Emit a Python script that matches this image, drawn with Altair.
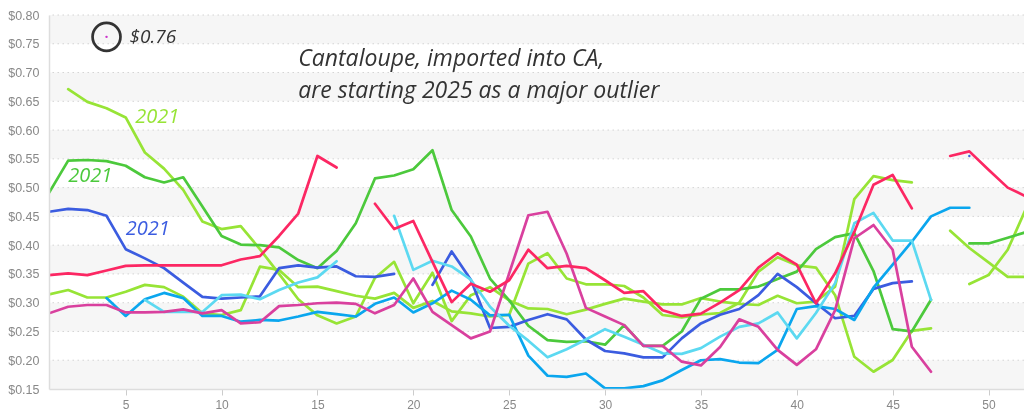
import altair as alt
import pandas as pd

weeks = list(range(1, 53))

red = [0.348, 0.351, 0.348, 0.356, 0.364, 0.365, 0.365, 0.365, 0.365, 0.365,
       0.375, 0.381, 0.416, 0.455, 0.555, 0.535, None, 0.472, 0.428, 0.442,
       0.371, 0.301, 0.333, 0.319, 0.339, 0.392, 0.360, 0.364, 0.360, 0.339,
       0.317, 0.320, 0.287, 0.277, 0.281, 0.300, 0.322, 0.361, 0.386, 0.366,
       0.299, 0.351, 0.423, 0.505, 0.522, 0.464, None, 0.555, 0.563, 0.531,
       0.500, 0.484]

green = [0.491, 0.547, 0.548, 0.546, 0.538, 0.518, 0.509, 0.518, 0.467, 0.416,
         0.401, 0.400, 0.396, 0.374, 0.360, 0.390, 0.438, 0.516, 0.521, 0.532,
         0.565, 0.461, 0.415, 0.342, 0.304, 0.260, 0.235, 0.232, 0.233, 0.227,
         0.261, 0.225, 0.225, 0.250, 0.307, 0.323, 0.323, 0.328, 0.341, 0.354,
         0.393, 0.414, 0.421, 0.355, 0.254, 0.250, 0.305, None, 0.403, 0.403,
         0.413, 0.423]

blue = [0.458, 0.463, 0.461, 0.451, 0.393, 0.377, 0.360, 0.335, 0.310, 0.307,
        0.309, 0.311, 0.360, 0.365, 0.361, 0.363, 0.346, 0.345, 0.350, None,
        0.331, 0.389, 0.340, 0.256, 0.258, 0.270, 0.280, 0.271, 0.236, 0.216,
        0.212, 0.205, 0.205, 0.238, 0.264, 0.279, 0.289, 0.313, 0.350, 0.327,
        0.299, 0.273, 0.277, 0.324, 0.334, 0.337, None, None, 0.555, None,
        None, None]

cyan = [None, None, None, 0.308, 0.277, 0.306, 0.317, 0.308, 0.277, 0.277,
        0.267, 0.270, 0.269, 0.276, 0.284, 0.280, 0.276, 0.298, 0.309, 0.283,
        0.299, 0.321, 0.305, 0.278, 0.279, 0.208, 0.173, 0.171, 0.177, 0.151,
        0.151, 0.155, 0.165, 0.183, 0.200, 0.202, 0.196, 0.195, 0.218, 0.289,
        0.294, 0.289, 0.270, 0.326, 0.366, 0.406, 0.450, 0.465, 0.465, None,
        None, None]

light_cyan = [None, None, None, None, None, 0.305, 0.284, 0.284, 0.284, 0.313,
              0.314, 0.306, 0.322, 0.335, 0.344, 0.372, None, None, 0.451, 0.357,
              0.373, 0.363, 0.340, 0.293, 0.260, 0.234, 0.205, 0.219, 0.236, 0.254,
              0.241, 0.227, 0.212, 0.211, 0.221, 0.241, 0.258, 0.264, 0.283, 0.238,
              0.282, 0.334, 0.438, 0.456, 0.408, 0.408, 0.305, None, None, None,
              None, None]

magenta = [0.2815, 0.293, 0.296, 0.296, 0.283, 0.283, 0.284, 0.2885, 0.2815, 0.287,
           0.264, 0.266, 0.294, 0.296, 0.299, 0.300, 0.298, 0.2815, 0.296, 0.342,
           0.284, 0.261, 0.238, 0.250, 0.351, 0.452, 0.458, 0.385, 0.291, 0.276,
           0.261, 0.225, 0.225, 0.1975, 0.191, 0.223, 0.271, 0.258, 0.218, 0.192,
           0.219, 0.287, 0.412, 0.435, 0.392, 0.2235, 0.180, None, None, None,
           None, None]

lime_a = [None, 0.671, 0.649, 0.638, 0.622, 0.561, 0.533, 0.496, 0.441, 0.428,
          0.433, 0.393, 0.350, 0.306, 0.278, 0.264, 0.276, 0.343, 0.371, 0.299,
          0.352, 0.268, 0.313, 0.327, 0.304, 0.290, 0.289, 0.280, 0.288, 0.298,
          0.307, 0.302, 0.297, 0.297, 0.308, 0.302, 0.298, 0.296, 0.312, 0.299,
          0.302, 0.328, 0.480, 0.520, 0.513, 0.509, None, 0.425, 0.395, 0.370,
          0.345, 0.345]

lime_b = [0.3145, 0.322, 0.309, 0.309, 0.319, 0.331, 0.327, 0.3105, 0.2815, 0.2786,
          0.287, 0.3626, 0.357, 0.327, 0.328, 0.320, 0.312, 0.307, 0.317, 0.291,
          0.303, 0.285, 0.2815, 0.276, 0.2786, 0.368, 0.386, 0.342, 0.332, 0.332,
          0.329, 0.309, 0.2786, 0.2746, 0.2795, 0.282, 0.300, 0.354, 0.379, 0.365,
          0.361, 0.313, 0.206, 0.180, 0.2004, 0.251, 0.2555, None, 0.3325, 0.348,
          0.392, 0.467]

# 2025 so far: a single week
week_2025 = [4]
value_2025 = [0.762]

series_names = ["lime_a", "lime_b", "green", "blue", "cyan", "light_cyan", "magenta", "red", "2025"]
series_colors = ["#97e436", "#97e436", "#4cc93c", "#3b5ce0", "#0aa6ee", "#5cd9f1", "#d9409e", "#fc2763", "#cc33cc"]
series_values = [lime_a, lime_b, green, blue, cyan, light_cyan, magenta, red]

y_ticks = [0.15, 0.20, 0.25, 0.30, 0.35, 0.40, 0.45, 0.50, 0.55, 0.60, 0.65, 0.70, 0.75, 0.80]
x_ticks = [5, 10, 15, 20, 25, 30, 35, 40, 45, 50]
band_low = [0.15, 0.25, 0.35, 0.45, 0.55, 0.65, 0.75]
band_high = [0.20, 0.30, 0.40, 0.50, 0.60, 0.70, 0.80]

ann_text = ["$0.76", "2021", "2021", "2021"]
ann_week = [5.2, 5.5, 2.0, 5.0]
ann_value = [0.762, 0.623, 0.520, 0.428]
ann_color = ["#333333", "#97e436", "#4cc93c", "#3b5ce0"]
ann_size = [19, 20, 20, 20]

title_lines = ["Cantaloupe, imported into CA,", "are starting 2025 as a major outlier"]
title_week = [14.0, 14.0]
title_value = [0.712, 0.656]

# ---- build tables ----
rows = []
for name, vals in zip(series_names, series_values):
    seg = 0
    run = []
    for w, v in zip(weeks, vals):
        if v is None:
            if run:
                seg += 1
            run = []
            continue
        run.append(w)
        rows.append({"series": name, "seg": f"{name}-{seg}", "week": w, "value": v})
lines_df = pd.DataFrame(rows)
# isolated single points (no neighbours) are shown as dots
counts = lines_df.groupby("seg")["week"].transform("count")
iso_df = lines_df[counts == 1].copy()
lines_df = lines_df[counts > 1]
iso_df = pd.concat([iso_df, pd.DataFrame({"series": ["2025"] * len(week_2025), "seg": ["2025-0"] * len(week_2025),
                                          "week": week_2025, "value": value_2025})])

bands_df = pd.DataFrame({"week": [weeks[0]] * len(band_low), "week_end": [weeks[-1]] * len(band_low),
                         "value": band_low, "value_end": band_high})
grid_df = pd.DataFrame({"value": y_ticks[1:]})
ann_df = pd.DataFrame({"text": ann_text, "week": ann_week, "value": ann_value, "color": ann_color,
                       "size": ann_size})
title_df = pd.DataFrame({"text": title_lines, "week": title_week, "value": title_value})
circle_df = pd.DataFrame({"week": week_2025, "value": value_2025})

x_scale = alt.Scale(domain=[1, 51.85], nice=False, zero=False)
y_scale = alt.Scale(domain=[0.15, 0.80], nice=False, zero=False)

AXIS_FONT = "Liberation Sans"
HAND_FONT = "Open Sans"


def X(field="week"):
    return alt.X(f"{field}:Q", scale=x_scale,
                 axis=alt.Axis(values=x_ticks, grid=False, title=None, domainColor="#dddddd",
                               domainWidth=1.5, tickColor="#cccccc", tickSize=6, labelColor="#888888",
                               labelFont=AXIS_FONT, labelFontSize=12, labelPadding=4, zindex=1))


def Y(field="value"):
    return alt.Y(f"{field}:Q", scale=y_scale,
                 axis=alt.Axis(values=y_ticks, format="$.2f", grid=False, ticks=False, title=None,
                               domainColor="#dddddd", domainWidth=1.5, labelColor="#888888",
                               labelFont=AXIS_FONT, labelFontSize=12.5, labelPadding=10, zindex=1))


color_scale = alt.Scale(domain=series_names, range=series_colors)

bands = alt.Chart(bands_df).mark_rect(color="#f6f6f6", clip=True).encode(
    x=X(), x2="week_end:Q", y=Y(), y2="value_end:Q")

grid = alt.Chart(grid_df).mark_rule(color="#d4d4d4", strokeDash=[1.5, 3.5], strokeWidth=1).encode(
    y=Y())

lines = alt.Chart(lines_df).mark_line(strokeWidth=2.7, blend="multiply", clip=True,
                                      strokeJoin="round", strokeCap="round").encode(
    x=X(), y=Y(),
    color=alt.Color("series:N", scale=color_scale, legend=None),
    detail="seg:N",
    order=alt.Order("week:Q"))

dots = alt.Chart(iso_df).mark_point(filled=True, size=6, opacity=1).encode(
    x=X(), y=Y(), color=alt.Color("series:N", scale=color_scale, legend=None))

circle = alt.Chart(circle_df).mark_point(shape="circle", filled=False, size=780, strokeWidth=2.7,
                                         color="#333333", opacity=1).encode(x=X(), y=Y())

ann = alt.Chart(ann_df).mark_text(align="left", baseline="middle", font=HAND_FONT,
                                  fontStyle="italic").encode(
    x=X(), y=Y(), text="text:N", color=alt.Color("color:N", scale=None),
    size=alt.Size("size:Q", scale=None, legend=None))

titles = alt.Chart(title_df).mark_text(align="left", baseline="alphabetic", font=HAND_FONT,
                                       fontStyle="italic", fontSize=23, color="#333333").encode(
    x=X(), y=Y(), text="text:N")

chart = alt.layer(bands, grid, lines, dots, circle, ann, titles).properties(
    width=975, height=374,
    padding={"left": 49, "top": 15, "right": 0, "bottom": 30},
    autosize=alt.AutoSizeParams(type="none"),
    background="white",
).configure_view(stroke=None)

chart.save("out.html", embed_options={"renderer": "svg", "actions": False})
